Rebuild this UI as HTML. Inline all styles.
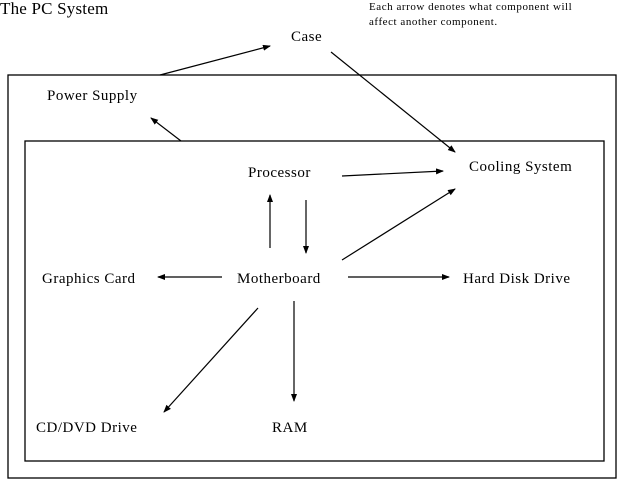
<!DOCTYPE html>
<html><head><style>
html,body{margin:0;padding:0;background:#fff;width:620px;height:486px;overflow:hidden}
</style></head><body>
<svg width="620" height="486" xmlns="http://www.w3.org/2000/svg" font-family="Liberation Serif, serif" fill="#000">
<defs><marker id="a" markerWidth="8" markerHeight="8" refX="7" refY="3" orient="auto" markerUnits="userSpaceOnUse"><path d="M0,0 L8,3 L0,6 z" fill="#000"/></marker></defs>
<rect x="8" y="75" width="608" height="403" fill="none" stroke="#000" stroke-width="1.3"/>
<rect x="25" y="141" width="579" height="320" fill="none" stroke="#000" stroke-width="1.3"/>
<text x="0" y="14" font-size="17" letter-spacing="0.2">The PC System</text>
<text x="369" y="10" font-size="11" letter-spacing="0.55">Each arrow denotes what component will</text>
<text x="369" y="25" font-size="11" letter-spacing="0.55">affect another component.</text>
<g font-size="15" letter-spacing="0.5">
<text x="291" y="41">Case</text>
<text x="47" y="100">Power Supply</text>
<text x="248" y="177">Processor</text>
<text x="469" y="171">Cooling System</text>
<text x="42" y="283">Graphics Card</text>
<text x="237" y="283">Motherboard</text>
<text x="463" y="283">Hard Disk Drive</text>
<text x="36" y="432">CD/DVD Drive</text>
<text x="272" y="432">RAM</text>
</g>
<g stroke="#000" stroke-width="1.2" marker-end="url(#a)">
<line x1="160" y1="75" x2="270" y2="46"/>
<line x1="181" y1="141" x2="151" y2="118"/>
<line x1="331" y1="52" x2="455" y2="152"/>
<line x1="342" y1="176" x2="443" y2="171"/>
<line x1="270" y1="248" x2="270" y2="195"/>
<line x1="306" y1="200" x2="306" y2="253"/>
<line x1="342" y1="260" x2="455" y2="189"/>
<line x1="222" y1="277" x2="158" y2="277"/>
<line x1="348" y1="277" x2="449" y2="277"/>
<line x1="258" y1="308" x2="164" y2="412"/>
<line x1="294" y1="301" x2="294" y2="401"/>
</g>
</svg>
</body></html>
